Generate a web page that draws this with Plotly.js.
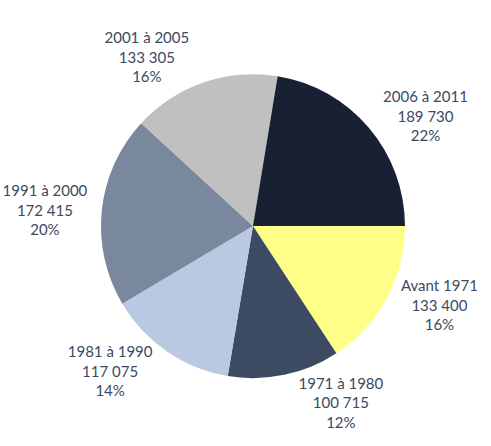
<!DOCTYPE html>
<html>
<head>
<meta charset="utf-8">
<script src="https://cdn.plot.ly/plotly-3.0.1.min.js"></script>
<style>html,body{margin:0;padding:0;background:#fff;}#chart{width:491px;height:446px;}</style>
</head>
<body>
<div id="chart"></div>
<script>
const categories = ["Avant 1971", "1971 à 1980", "1981 à 1990", "1991 à 2000", "2001 à 2005", "2006 à 2011"];
const values = [133400, 100715, 117075, 172415, 133305, 189730];
const colors = ["#FFFF88", "#3C4B61", "#B8C9E1", "#7A889E", "#C0C0C0", "#182133"];

const total = values.reduce((a, b) => a + b, 0);
const fmt = v => String(v).replace(/\B(?=(\d{3})+(?!\d))/g, " ");
const texts = categories.map((c, i) => c + "<br>" + fmt(values[i]) + "<br>" + Math.round(values[i] / total * 100) + "%");

Plotly.newPlot("chart", [{
  type: "pie",
  labels: categories,
  values: values,
  text: texts,
  textinfo: "text",
  textposition: "outside",
  hoverinfo: "none",
  sort: false,
  direction: "clockwise",
  rotation: 90,
  marker: {colors: colors, line: {width: 0}},
  outsidetextfont: {family: "Lato, 'Open Sans', sans-serif", size: 15, color: "#3B4A60"},
  automargin: false,
  domain: {x: [0.2057, 0.8248], y: [0.152, 0.834]},
  showlegend: false
}], {
  width: 491, height: 446,
  margin: {l: 0, r: 0, t: 0, b: 0},
  paper_bgcolor: "#ffffff",
  showlegend: false
}, {staticPlot: true, displayModeBar: false});
</script>
</body>
</html>
